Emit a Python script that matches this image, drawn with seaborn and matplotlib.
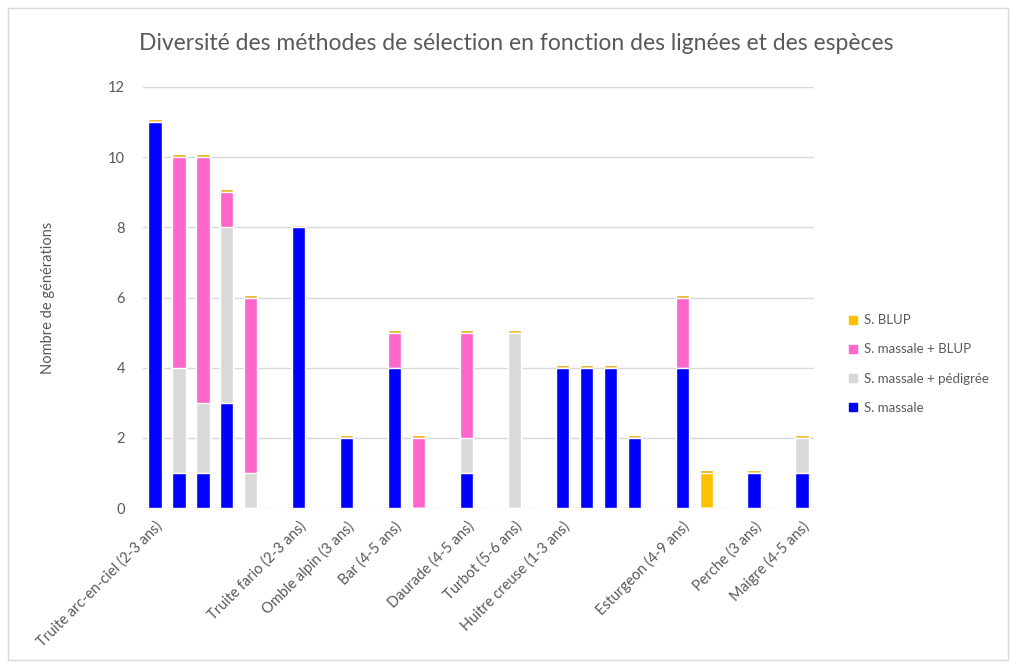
import numpy as np
import pandas as pd
import matplotlib
matplotlib.use("Agg")
import matplotlib.pyplot as plt
import seaborn as sns
from matplotlib.patches import Rectangle
from matplotlib.lines import Line2D

# ---- data ----
categories = ["Truite arc-en-ciel (2-3 ans)", "", "", "", "", "",
              "Truite fario (2-3 ans)", "", "Omble alpin (3 ans)", "",
              "Bar (4-5 ans)", "", "", "Daurade (4-5 ans)", "",
              "Turbot (5-6 ans)", "", "Huitre creuse (1-3 ans)", "", "", "", "",
              "Esturgeon (4-9 ans)", "", "", "Perche (3 ans)", "", "Maigre (4-5 ans)"]
s_massale = [11, 1, 1, 3, 0, 0, 8, 0, 2, 0, 4, 0, 0, 1, 0, 0, 0, 4, 4, 4, 2, 0, 4, 0, 0, 1, 0, 1]
s_pedigree = [0, 3, 2, 5, 1, 0, 0, 0, 0, 0, 0, 0, 0, 1, 0, 5, 0, 0, 0, 0, 0, 0, 0, 0, 0, 0, 0, 1]
s_massale_blup = [0, 6, 7, 1, 5, 0, 0, 0, 0, 0, 1, 2, 0, 3, 0, 0, 0, 0, 0, 0, 0, 0, 2, 0, 0, 0, 0, 0]
s_blup = [0, 0, 0, 0, 0, 0, 0, 0, 0, 0, 0, 0, 0, 0, 0, 0, 0, 0, 0, 0, 0, 0, 0, 1, 0, 0, 0, 0]
series_names = ["S. BLUP", "S. massale + BLUP", "S. massale + pédigrée", "S. massale"]
colors = ["#FFC000", "#FF66CC", "#D9D9D9", "#0000FF"]

slots = [f"s{i}" for i in range(len(categories))]
df = pd.DataFrame({"slot": slots,
                   "c1": np.array(s_massale, float)})
df["c2"] = df["c1"] + np.array(s_pedigree, float)
df["c3"] = df["c2"] + np.array(s_massale_blup, float)
df["c4"] = df["c3"] + np.array(s_blup, float)
CAP = 0.08
df["cap"] = np.where(df["c4"] > 0, df["c4"] + CAP, np.nan)

txt = "#595959"
sns.set_theme(style="white")
plt.rcParams["font.family"] = ["Lato", "DejaVu Sans"]

fig = plt.figure(figsize=(10.11, 6.64), dpi=100)
ax = fig.add_axes([143 / 1011, 1 - 508 / 664, 671 / 1011, 421 / 664])

W = 0.55
sns.barplot(data=df, x="slot", y="cap", order=slots, color="#E8A800", width=W,
            saturation=1, ax=ax, zorder=3)
for col, c in zip(["c4", "c3", "c2", "c1"], colors):
    sns.barplot(data=df, x="slot", y=col, order=slots, color=c, width=W,
                saturation=1, ax=ax, zorder=3)

ax.set_ylim(0, 12)
ax.set_xlim(-0.5, len(slots) - 0.5)
ax.set_yticks(range(0, 13, 2))
ax.yaxis.grid(True, color="#D9D9D9", linewidth=1)
ax.set_axisbelow(True)
for s in ax.spines.values():
    s.set_visible(False)
ax.tick_params(axis="both", length=0, colors=txt, labelsize=10.5)
ax.set_xticks(range(len(slots)))
ax.set_xticklabels(categories, rotation=45, ha="right", rotation_mode="anchor",
                   color=txt, fontsize=10.5)
ax.tick_params(axis="x", pad=8)
ax.tick_params(axis="y", pad=13)
ax.set_xlabel("")
ax.set_ylabel("Nombre de générations", color=txt, fontsize=10.5, labelpad=38)

fig.text(516 / 1011, 1 - 43 / 664, "Diversité des méthodes de sélection en fonction des lignées et des espèces",
         ha="center", va="center", color=txt, fontsize=16.5)

handles = [Line2D([], [], marker="s", linestyle="", markersize=6,
                  markerfacecolor=c, markeredgecolor=c) for c in colors]
fig.legend(handles, series_names, loc="center left", bbox_to_anchor=(835 / 1011, 1 - 364 / 664),
           frameon=False, fontsize=9.5, labelcolor=txt, handletextpad=0.3,
           labelspacing=1.3, handlelength=1.0)

fig.patches.append(Rectangle((8 / 1011, 4 / 664), 1000 / 1011, 652 / 664,
                             transform=fig.transFigure, fill=False,
                             edgecolor="#D9D9D9", linewidth=1))

fig.savefig("out.png", dpi=100)
